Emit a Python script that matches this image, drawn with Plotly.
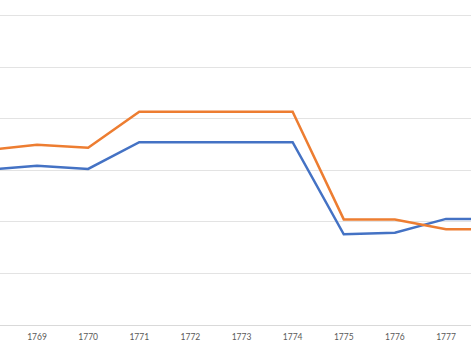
import plotly.graph_objects as go

# Yearly series
years = [1768, 1769, 1770, 1771, 1772, 1773, 1774, 1775, 1776, 1777, 1778]
series_blue = [30.1, 30.9, 30.3, 35.5, 35.5, 35.5, 35.5, 17.6, 17.9, 20.6, 20.6]
series_orange = [33.9, 35.0, 34.4, 41.4, 41.4, 41.4, 41.4, 20.5, 20.5, 18.6, 18.6]
tick_years = [1769, 1770, 1771, 1772, 1773, 1774, 1775, 1776, 1777]

fig = go.Figure()
fig.add_trace(go.Scatter(x=years, y=series_blue, mode="lines",
                         line=dict(color="#4472C4", width=2.5), showlegend=False))
fig.add_trace(go.Scatter(x=years, y=series_orange, mode="lines",
                         line=dict(color="#ED7D31", width=2.5), showlegend=False))

fig.update_layout(
    width=471, height=345,
    margin=dict(l=0, r=0, t=0, b=20),
    paper_bgcolor="white", plot_bgcolor="white",
    font=dict(family="Lato, Open Sans, sans-serif", size=9, color="#595959"),
)
fig.update_xaxes(
    range=[1768.276, 1777.489],
    tickmode="array", tickvals=tick_years, ticktext=[str(y) for y in tick_years],
    showgrid=False, zeroline=False,
    showline=True, linecolor="#d9d9d9", linewidth=1,
    ticks="", ticklabelstandoff=4,
    tickfont=dict(size=8.5, color="#595959"),
)
fig.update_yaxes(
    range=[0, 63.1], dtick=10, showticklabels=False,
    showgrid=True, gridcolor="#e3e3e3", gridwidth=1,
    zeroline=False,
)

fig.write_html("out.html")
